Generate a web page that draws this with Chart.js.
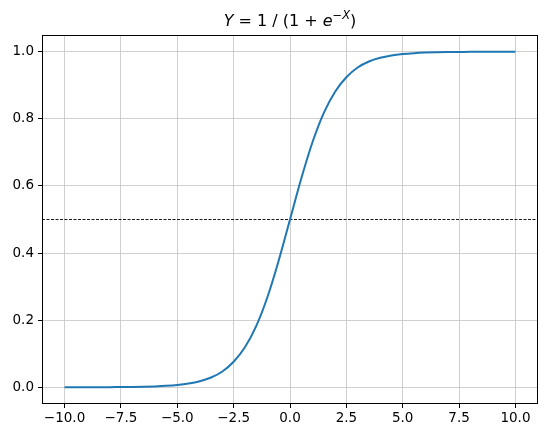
<!DOCTYPE html>
<html>
<head>
<meta charset="utf-8">
<script src="https://cdn.jsdelivr.net/npm/chart.js@4"></script>
<style>
  html, body { margin: 0; padding: 0; background: #fff; }
  #wrap { width: 547px; height: 438px; }
</style>
</head>
<body>
<div id="wrap"><canvas id="c" width="547" height="438"></canvas></div>
<script>
// values
const xs = [-10, -9.5, -9, -8.5, -8, -7.5, -7, -6.5, -6, -5.5, -5, -4.5, -4, -3.5, -3, -2.5, -2, -1.5, -1, -0.5,
            0, 0.5, 1, 1.5, 2, 2.5, 3, 3.5, 4, 4.5, 5, 5.5, 6, 6.5, 7, 7.5, 8, 8.5, 9, 9.5, 10];
const ys = [0.0000, 0.0001, 0.0001, 0.0002, 0.0003, 0.0006, 0.0009, 0.0015, 0.0025, 0.0041, 0.0067, 0.011, 0.018, 0.029, 0.047, 0.076, 0.119, 0.182, 0.269, 0.378,
            0.500, 0.622, 0.731, 0.818, 0.881, 0.924, 0.953, 0.971, 0.982, 0.989, 0.9933, 0.9959, 0.9975, 0.9985, 0.9991, 0.9994, 0.9997, 0.9998, 0.9999, 0.9999, 1.0000];
const hlineY = 0.5;
const xTicks = [-10, -7.5, -5, -2.5, 0, 2.5, 5, 7.5, 10];
const yTicks = [0, 0.2, 0.4, 0.6, 0.8, 1.0];
const xRange = [-11, 11];
const yRange = [-0.05, 1.05];

const fmt = v => v.toFixed(1).replace('-', '\u2212');

const boxAndTitle = {
  id: 'boxAndTitle',
  afterDraw(chart) {
    const { ctx, chartArea: a } = chart;
    ctx.save();
    ctx.strokeStyle = '#000';
    ctx.lineWidth = 1;
    ctx.strokeRect(Math.round(a.left) + 0.5, Math.round(a.top) + 0.5,
                   Math.round(a.right - a.left) - 1, Math.round(a.bottom - a.top) - 1);

    // title: Y = 1 / (1 + e^{-X})
    const base = '16px "DejaVu Sans"';
    const ital = 'italic 16px "DejaVu Sans"';
    const sup = '11.5px "DejaVu Sans"';
    const supI = 'italic 11.5px "DejaVu Sans"';
    const parts = [
      [ital, 'Y', 0], [base, ' = 1 / (1 + ', 0], [ital, 'e', 0],
      [sup, '\u2212', -7], [supI, 'X', -7], [base, ')', 0]
    ];
    let w = 0;
    parts.forEach(p => { ctx.font = p[0]; w += ctx.measureText(p[1]).width; });
    let x = (a.left + a.right) / 2 - w / 2;
    const y = 26;
    ctx.fillStyle = '#000';
    ctx.textBaseline = 'alphabetic';
    parts.forEach(p => {
      ctx.font = p[0];
      ctx.fillText(p[1], x, y + p[2]);
      x += ctx.measureText(p[1]).width;
    });
    ctx.restore();
  }
};

new Chart(document.getElementById('c'), {
  type: 'line',
  data: {
    datasets: [
      {
        data: xs.map((x, i) => ({ x: x, y: ys[i] })),
        borderColor: '#1f77b4',
        borderWidth: 2,
        pointRadius: 0,
        cubicInterpolationMode: 'monotone',
        fill: false
      },
      {
        data: xRange.map(x => ({ x: x, y: hlineY })),
        borderColor: '#000',
        borderWidth: 0.9,
        borderDash: [3, 1.5],
        pointRadius: 0,
        fill: false
      }
    ]
  },
  options: {
    responsive: false,
    animation: false,
    devicePixelRatio: 1,
    layout: { padding: { top: 35, right: 9, left: 0, bottom: 0 } },
    plugins: { legend: { display: false }, title: { display: false }, tooltip: { enabled: false } },
    scales: {
      x: {
        type: 'linear',
        min: xRange[0],
        max: xRange[1],
        afterBuildTicks: s => { s.ticks = xTicks.map(v => ({ value: v })); },
        afterFit: s => { s.height = 34; },
        ticks: {
          callback: v => fmt(v),
          color: '#000',
          font: { family: 'DejaVu Sans', size: 13.5 },
          padding: 2,
          maxRotation: 0
        },
        grid: { color: '#c4c4c4', lineWidth: 0.8, tickColor: '#000', tickLength: 4, tickWidth: 1 },
        border: { display: false }
      },
      y: {
        type: 'linear',
        min: yRange[0],
        max: yRange[1],
        afterBuildTicks: s => { s.ticks = yTicks.map(v => ({ value: v })); },
        afterFit: s => { s.width = 42; },
        ticks: {
          callback: v => fmt(v),
          color: '#000',
          font: { family: 'DejaVu Sans', size: 13.5 },
          padding: 4
        },
        grid: { color: '#c4c4c4', lineWidth: 0.8, tickColor: '#000', tickLength: 4, tickWidth: 1 },
        border: { display: false }
      }
    }
  },
  plugins: [boxAndTitle]
});
</script>
</body>
</html>
